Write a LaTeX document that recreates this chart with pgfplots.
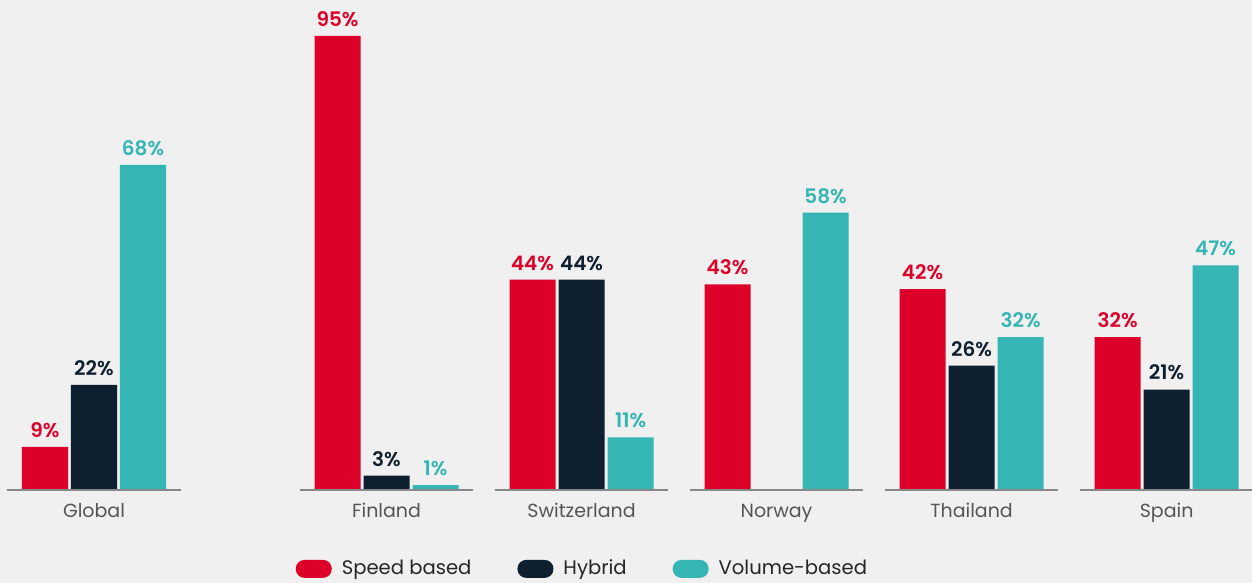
\documentclass[border=0pt]{standalone}
\usepackage{pgfplots}
\pgfplotsset{compat=1.18}
\usepackage{fontspec}
\setmainfont{Poppins}
\newfontfamily\sbfont{Poppins SemiBold}
\definecolor{cRed}{HTML}{DD0029}
\definecolor{cNavy}{HTML}{0E1F2F}
\definecolor{cTeal}{HTML}{35B5B4}
\definecolor{bgc}{HTML}{F0F0F0}
\definecolor{txtgray}{HTML}{555555}
\definecolor{basegray}{HTML}{888888}
\pgfplotsset{
  pill legend/.style={legend image code/.code={\fill[##1, draw=none, rounded corners=4.4pt] (0pt,-4.5pt) rectangle (18pt,4.5pt);}},
}
\begin{document}
\begin{tikzpicture}
\fill[bgc] (0,-46.5pt) rectangle (626pt,245pt);
\begin{axis}[
  at={(0,0)}, anchor=south west,
  width=626pt, height=245pt, scale only axis,
  xmin=-0.482, xmax=5.938, ymin=0, ymax=102.5,
  axis line style={draw=none},
  major tick length=0pt,
  ytick=\empty,
  xtick={0,1.5,2.5,3.5,4.5,5.5},
  xticklabels={Global,Finland,Switzerland,Norway,Thailand,Spain},
  xticklabel style={font=\fontsize{9.5pt}{11pt}\selectfont, text=txtgray, anchor=base, yshift=-13.5pt},
  clip=false,
  nodes near coords={\pgfmathprintnumber[assume math mode=true]{\pgfplotspointmeta}\%},
  nodes near coords style={font=\sbfont\fontsize{10pt}{12pt}\selectfont, anchor=south, inner sep=0pt, yshift=4.5pt},
  legend columns=3,
  legend style={at={(0.466,-0.161)}, anchor=center, draw=none, fill=none,
    font=\fontsize{9.8pt}{12pt}\selectfont, text=black!85,
    /tikz/every odd column/.append style={column sep=3pt},
    /tikz/every even column/.append style={column sep=21pt}},
]
\addplot[ybar, bar width=0.236, bar shift=0pt, fill=cRed, draw=none, pill legend,
  every node near coord/.append style={text=cRed}]
  coordinates {(-0.2513,9) (1.2487,95) (2.2487,44) (3.2487,43) (4.2487,42) (5.2487,32)};
\addlegendentry{Speed based}
\addplot[ybar, bar width=0.236, bar shift=0pt, fill=cNavy, draw=none, pill legend,
  every node near coord/.append style={text=cNavy}]
  coordinates {(0,22) (1.5,3) (2.5,44) (4.5,26) (5.5,21)};
\addlegendentry{Hybrid}
\addplot[ybar, bar width=0.236, bar shift=0pt, fill=cTeal, draw=none, pill legend,
  every node near coord/.append style={text=cTeal}]
  coordinates {(0.2513,68) (1.7513,1) (2.7513,11) (3.7513,58) (4.7513,32) (5.7513,47)};
\addlegendentry{Volume-based}
\addplot[basegray, line width=1pt, no markers, forget plot, nodes near coords={}] coordinates {(-0.444,0) (0.444,0)};
\addplot[basegray, line width=1pt, no markers, forget plot, nodes near coords={}] coordinates {(1.056,0) (1.944,0)};
\addplot[basegray, line width=1pt, no markers, forget plot, nodes near coords={}] coordinates {(2.056,0) (2.944,0)};
\addplot[basegray, line width=1pt, no markers, forget plot, nodes near coords={}] coordinates {(3.056,0) (3.944,0)};
\addplot[basegray, line width=1pt, no markers, forget plot, nodes near coords={}] coordinates {(4.056,0) (4.944,0)};
\addplot[basegray, line width=1pt, no markers, forget plot, nodes near coords={}] coordinates {(5.056,0) (5.944,0)};
\end{axis}
\pgfresetboundingbox
\useasboundingbox (0,-46.5pt) rectangle (626pt,245pt);
\end{tikzpicture}
\end{document}
